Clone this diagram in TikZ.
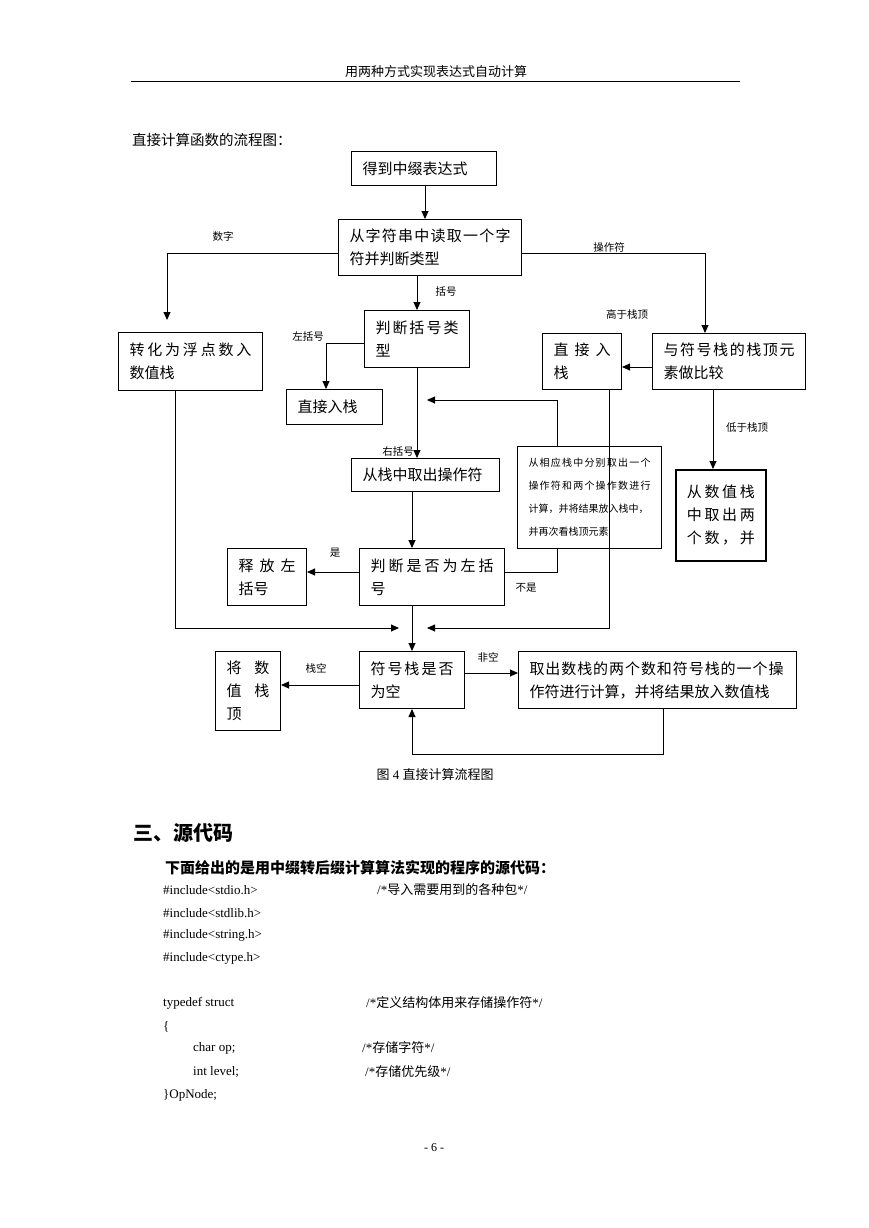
\documentclass[tikz,border=0pt]{standalone}
\usepackage{fontspec}
\setmainfont{Liberation Serif}
\newfontfamily\cjk{Noto Sans CJK SC}
\usetikzlibrary{arrows.meta}

% a line of box text stretched to the full text width
\def\sprfirst#1{#1\sprrest}
\def\sprrest#1{\ifx#1\relax\else\hfil#1\expandafter\sprrest\fi}
\newcommand\spread[2][\linewidth]{\makebox[#1][s]{\sprfirst#2\relax}}

\begin{document}
\begin{tikzpicture}[x=1pt, y=-1pt,
    box/.style={draw, line width=1pt, rectangle, anchor=north west, inner xsep=11pt, inner ysep=0pt,
                align=left, font=\cjk\fontsize{15}{23}\selectfont},
    note/.style={inner sep=0pt, font=\cjk\fontsize{10.5}{12}\selectfont},
    plainline/.style={line width=0.9pt},
    arrowline/.style={plainline, -{Triangle[length=8pt,width=7pt]}},
    code/.style={inner sep=0pt, anchor=west, font=\fontsize{13}{15}\selectfont}]
    \path[fill=white] (0,0) rectangle (869,1228);

    % page head
    \node[inner sep=0pt, font=\cjk\fontsize{13}{15}\selectfont] (head) at (436,72) {用两种方式实现表达式自动计算};
    \draw[line width=1pt] (131,82) -- (740,82);
    \node[inner sep=0pt, anchor=west, font=\cjk\fontsize{14.5}{16}\selectfont] (intro) at (132,140) {直接计算函数的流程图：};

    % boxes of the flow chart
    \node[box, text width=123pt, minimum height=34pt] (expr) at (351,151) {得到中缀表达式};
    \node[box, text width=161pt, minimum height=56pt] (readch) at (338,219)
        {\spread{从字符串中读取一个字}\\符并判断类型};
    \node[box, text width=122pt, minimum height=58pt] (tonum) at (118,332)
        {\spread{转化为浮点数入}\\数值栈};
    \node[box, text width=83pt, minimum height=57pt] (paren) at (364,310)
        {\spread{判断括号类}\\型};
    \node[box, text width=74pt, minimum height=35pt] (pushl) at (286,389) {直接入栈};
    \node[box, text width=126pt, minimum height=33pt] (popop) at (351,458) {从栈中取出操作符};
    \node[box, text width=123pt, minimum height=57pt] (isleft) at (359,548)
        {\spread{判断是否为左括}\\号};
    \node[box, text width=57pt, minimum height=57pt] (release) at (227,548)
        {\spread{释放左}\\括号};
    \node[box, text width=122pt, minimum height=102pt, font=\cjk\fontsize{10}{23}\selectfont] (calc) at (517,446)
        {\spread{从相应栈中分别取出一个}\\\spread{操作符和两个操作数进行}\\计算，并将结果放入栈中，\\并再次看栈顶元素};
    \node[box, text width=57pt, minimum height=56pt] (push) at (542,333)
        {\spread{直接入}\\栈};
    \node[box, text width=131pt, minimum height=56pt] (cmp) at (652,333)
        {\spread{与符号栈的栈顶元}\\素做比较};
    \node[box, line width=1.8pt, text width=68pt, minimum height=91pt] (popnum) at (675,469)
        {\spread{从数值栈}\\\spread{中取出两}\\\spread{个数，并}};
    \node[box, text width=83pt, minimum height=57pt] (empty) at (359,651)
        {\spread{符号栈是否}\\为空};
    \node[box, text width=43pt, minimum height=79pt] (result) at (215,651)
        {\spread{将数}\\\spread{值栈}\\顶};
    \node[box, text width=256pt, minimum height=57pt] (compute) at (518,651)
        {\spread[254pt]{取出数栈的两个数和符号栈的一个操}\\作符进行计算，并将结果放入数值栈};

    % labels
    \node[note] (l-num) at (223,236) {数字};
    \node[note] (l-op) at (609,247) {操作符};
    \node[note] (l-paren) at (446,292) {括号};
    \node[note] (l-left) at (308,337) {左括号};
    \node[note] (l-right) at (398,452) {右括号};
    \node[note] (l-high) at (627,315) {高于栈顶};
    \node[note] (l-low) at (747,428) {低于栈顶};
    \node[note] (l-yes) at (335,553) {是};
    \node[note] (l-no) at (526,588) {不是};
    \node[note] (l-empty) at (316,668) {栈空};
    \node[note] (l-full) at (488,657) {非空};

    % connectors
    \coordinate (back) at (427,400);
    \coordinate (joinL) at (399,628);
    \coordinate (joinR) at (427,628);
    \draw[arrowline] (expr.south -| 425,0) -- (readch.north -| 425,0);
    \draw[arrowline, shorten >=12pt] (readch.west |- 0,253) -| (tonum.north -| 167,0);
    \draw[arrowline] (readch.east |- 0,253) -| (cmp.north -| 705,0);
    \draw[arrowline] (readch.south -| 417,0) -- (paren.north -| 417,0);
    \draw[arrowline] (paren.west |- 0,343) -| (pushl.north -| 326,0);
    \draw[arrowline] (paren.south -| 417,0) -- (popop.north -| 417,0);
    \draw[arrowline] (popop.south -| 412,0) -- (isleft.north -| 412,0);
    \draw[arrowline] (isleft.west |- 0,572) -- (release.east |- 0,572);
    \draw[plainline] (isleft.east |- 0,572) -| (calc.south -| 557,0);
    \draw[arrowline] (calc.north -| 557,0) |- (back);
    \draw[arrowline] (cmp.west |- 0,367) -- (push.east |- 0,367);
    \draw[arrowline] (cmp.south -| 713,0) -- (popnum.north -| 713,0);
    \draw[arrowline] (push.south -| 609,0) |- (joinR);
    \draw[arrowline] (tonum.south -| 175,0) |- (joinL);
    \draw[arrowline] (isleft.south -| 412,0) -- (empty.north -| 412,0);
    \draw[arrowline] (empty.west |- 0,685) -- (result.east |- 0,685);
    \draw[arrowline] (empty.east |- 0,673) -- (compute.west |- 0,673);
    \draw[arrowline] (compute.south -| 663,0) -- ++(0,45) -| (empty.south -| 412,0);

    \node[inner sep=0pt, font=\fontsize{13}{15}\selectfont] (caption) at (435,775) {{\cjk 图} 4 {\cjk 直接计算流程图}};

    % source code part
    \node[inner sep=0pt, anchor=west, font=\cjk\bfseries\fontsize{20}{22}\selectfont] (sec) at (133,833) {三、源代码};
    \node[inner sep=0pt, anchor=west, font=\cjk\bfseries\fontsize{15}{17}\selectfont] (lead) at (165,868) {下面给出的是用中缀转后缀计算算法实现的程序的源代码：};
    \foreach \hdr/\yy in {stdio/890, stdlib/913, string/935, ctype/958}
        \node[code] (inc-\hdr) at (163,\yy) {\#include<\hdr.h>};
    \node[code] (c-inc) at (377,890) {/*{\cjk 导入需要用到的各种包}*/};
    \node[code] (c-struct) at (163,1003) {typedef struct};
    \node[code] (c-def) at (366,1003) {/*{\cjk 定义结构体用来存储操作符}*/};
    \node[code] (c-open) at (163,1027) {\{};
    \node[code] (c-op) at (193,1048) {char op;};
    \node[code] (c-opc) at (362,1048) {/*{\cjk 存储字符}*/};
    \node[code] (c-lev) at (193,1072) {int level;};
    \node[code] (c-levc) at (365,1072) {/*{\cjk 存储优先级}*/};
    \node[code] (c-close) at (163,1095) {\}OpNode;};

    \node[inner sep=0pt, font=\fontsize{12}{14}\selectfont] (pageno) at (434,1148) {- 6 -};
\end{tikzpicture}
\end{document}
